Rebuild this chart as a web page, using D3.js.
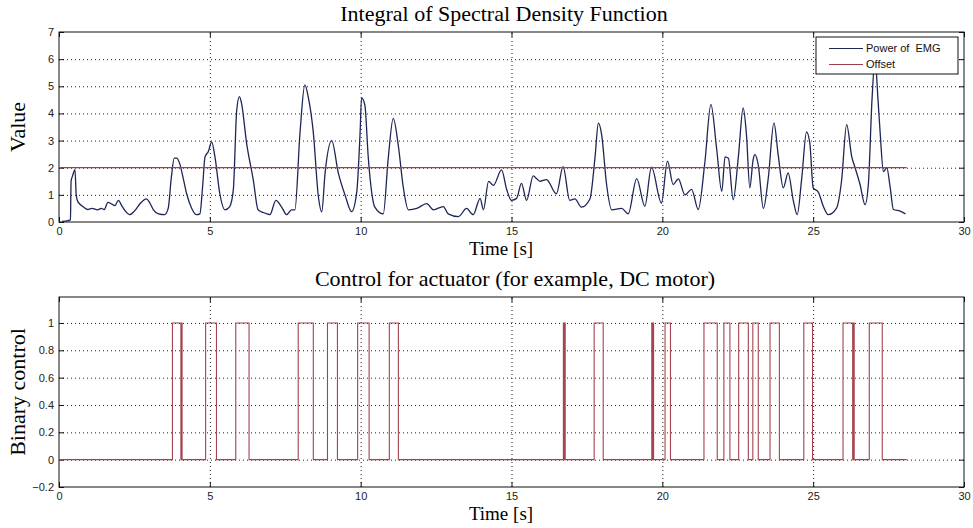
<!DOCTYPE html>
<html>
<head>
<meta charset="utf-8">
<script src="https://cdn.jsdelivr.net/npm/d3@7"></script>
<style>
  body { margin: 0; background: #fff; }
  svg { display: block; }
</style>
</head>
<body>
<div id="chart"></div>
<script>
// ---- data ----
const emgTime = [0.1, 0.3, 0.38, 0.40, 0.45, 0.53, 0.57, 0.62, 0.78, 0.95, 1.1, 1.28, 1.4, 1.5, 1.62, 1.75, 1.85, 1.97, 2.07, 2.2,
  2.35, 2.5, 2.69, 2.9, 3.0, 3.13, 3.3, 3.5, 3.62, 3.72, 3.82, 3.9, 4.0, 4.12, 4.23, 4.4, 4.56, 4.67, 4.76, 4.84,
  4.95, 5.06, 5.17, 5.33, 5.5, 5.66, 5.78, 5.89, 5.98, 6.05, 6.22, 6.44, 6.6, 6.77, 6.9, 6.99, 7.19, 7.38, 7.55, 7.71,
  7.82, 7.99, 8.15, 8.26, 8.43, 8.6, 8.71, 8.82, 9.04, 9.26, 9.48, 9.7, 9.87, 9.98, 10.03, 10.14, 10.25, 10.47, 10.75, 10.91,
  11.08, 11.25, 11.41, 11.58, 11.86, 12.19, 12.41, 12.74, 12.9, 13.24, 13.51, 13.73, 13.96, 14.07, 14.24, 14.4, 14.67, 14.84, 15.0, 15.17,
  15.33, 15.5, 15.72, 15.83, 15.94, 16.16, 16.49, 16.71, 16.93, 17.1, 17.32, 17.6, 17.77, 17.88, 17.99, 18.15, 18.32, 18.65, 18.87, 19.15,
  19.42, 19.64, 19.97, 20.17, 20.36, 20.53, 20.75, 20.97, 21.19, 21.41, 21.61, 21.8, 21.97, 22.08, 22.19, 22.35, 22.52, 22.68, 22.79, 22.9,
  23.01, 23.07, 23.18, 23.35, 23.51, 23.7, 23.84, 24.01, 24.17, 24.34, 24.47, 24.62, 24.78, 24.89, 25.0, 25.17, 25.33, 25.5, 25.77, 25.94,
  26.11, 26.28, 26.39, 26.55, 26.72, 26.83, 26.95, 27.05, 27.15, 27.22, 27.33, 27.44, 27.55, 27.66, 27.88, 28.06];
const emgPower = [0.02, 0.05, 0.08, 1.5, 1.7, 1.93, 1.0, 0.76, 0.58, 0.46, 0.5, 0.45, 0.5, 0.46, 0.72, 0.66, 0.6, 0.8, 0.62, 0.4,
  0.27, 0.4, 0.68, 0.85, 0.72, 0.45, 0.3, 0.27, 0.5, 1.6, 2.35, 2.35, 2.15, 1.6, 1.05, 0.5, 0.27, 0.3, 1.3, 2.4,
  2.6, 2.95, 2.4, 1.05, 0.45, 0.57, 1.2, 4.1, 4.62, 4.38, 2.9, 1.55, 0.45, 0.35, 0.3, 0.27, 0.8, 0.55, 0.27, 0.45,
  0.45, 3.3, 5.05, 4.62, 3.3, 0.92, 0.37, 1.8, 3.0, 1.8, 1.0, 0.38, 1.1, 3.27, 4.57, 4.3, 2.41, 0.55, 0.3, 2.3,
  3.82, 2.8, 1.3, 0.45, 0.5, 0.68, 0.45, 0.57, 0.3, 0.2, 0.5, 0.27, 0.87, 0.45, 1.5, 1.35, 1.92, 1.2, 0.8, 0.87,
  1.42, 0.8, 1.7, 1.6, 1.5, 1.56, 1.04, 2.04, 0.8, 0.85, 0.55, 0.85, 2.4, 3.64, 3.2, 1.4, 0.45, 0.5, 0.3, 1.6,
  0.58, 2.02, 0.7, 2.24, 1.38, 1.59, 1.0, 1.2, 0.46, 2.2, 4.33, 2.7, 1.13, 2.4, 2.35, 0.82, 2.4, 4.2, 3.2, 1.26,
  2.3, 2.48, 2.1, 0.5, 1.6, 3.65, 2.48, 1.26, 1.81, 0.8, 0.27, 1.6, 3.32, 2.9, 1.26, 1.1, 0.6, 0.27, 0.5, 1.5,
  3.59, 2.4, 2.0, 1.4, 0.64, 1.4, 4.5, 6.0, 4.5, 3.3, 1.86, 2.0, 1.3, 0.46, 0.4, 0.3];

const offsetLevel = 2;
const offsetSpan = [0, 28.1];

// binary control: switch-on and switch-off times [s]
const pulseOn  = [3.76, 4.06, 4.86, 5.86, 7.93, 8.90, 9.90, 10.95, 16.72, 16.76, 17.74, 19.65, 19.69, 20.09,
  21.38, 22.04, 22.53, 23.00, 23.57, 24.69, 25.99, 26.33, 26.86];
const pulseOff = [4.04, 4.08, 5.22, 6.30, 8.43, 9.23, 10.28, 11.25, 16.74, 16.78, 18.04, 19.67, 19.71, 20.27,
  21.82, 22.24, 22.85, 23.18, 23.88, 24.98, 26.31, 26.36, 27.29];
const controlSpan = [0, 28.1];

const timeTicks = [0, 5, 10, 15, 20, 25, 30];
const valueTicks = [0, 1, 2, 3, 4, 5, 6, 7];
const controlTicks = [-0.2, 0, 0.2, 0.4, 0.6, 0.8, 1];

const legendLabels = ["Power of  EMG", "Offset"];

// ---- drawing ----
const W = 973, H = 528;
const EMG_COLOR = "#1d2656";
const OFFSET_COLOR = "#a23d4a";
const CONTROL_COLOR = "#a5434e";
const SERIF = "Liberation Serif, Times New Roman, serif";
const SANS = "Liberation Sans, Arial, sans-serif";

const svg = d3.select("#chart").append("svg")
    .attr("width", W)
    .attr("height", H);

svg.append("rect").attr("width", W).attr("height", H).attr("fill", "#fff");

function drawPanel(cfg) {
    const x = d3.scaleLinear().domain([0, 30]).range([cfg.left, cfg.right]);
    const y = d3.scaleLinear().domain(cfg.yDomain).range([cfg.bottom, cfg.top]);
    const g = svg.append("g");

    // dotted grid
    g.append("g")
        .attr("transform", `translate(0,${cfg.bottom})`)
        .call(d3.axisBottom(x).tickValues(timeTicks.filter(t => t > 0 && t < 30)).tickSize(-(cfg.bottom - cfg.top)).tickFormat(""))
        .call(a => a.select(".domain").remove())
        .call(a => a.selectAll("line").attr("stroke", "#222").attr("stroke-dasharray", "1,3"));
    g.append("g")
        .attr("transform", `translate(${cfg.left},0)`)
        .call(d3.axisLeft(y).tickValues(cfg.gridY).tickSize(-(cfg.right - cfg.left)).tickFormat(""))
        .call(a => a.select(".domain").remove())
        .call(a => a.selectAll("line").attr("stroke", "#222").attr("stroke-dasharray", "1,3"));

    // axes with inward ticks on all four sides
    const styleAxis = a => {
        a.select(".domain").remove();
        a.selectAll("line").attr("stroke", "#111");
        a.selectAll("text").attr("fill", "#222").attr("font-family", SANS).attr("font-size", 11);
    };
    g.append("g")
        .attr("transform", `translate(0,${cfg.bottom})`)
        .call(d3.axisBottom(x).tickValues(timeTicks).tickSizeInner(-5).tickSizeOuter(0).tickPadding(5.5))
        .call(styleAxis);
    g.append("g")
        .attr("transform", `translate(0,${cfg.top})`)
        .call(d3.axisTop(x).tickValues(timeTicks).tickSizeInner(-5).tickSizeOuter(0).tickFormat(""))
        .call(styleAxis);
    g.append("g")
        .attr("transform", `translate(${cfg.left},0)`)
        .call(d3.axisLeft(y).tickValues(cfg.yTicks).tickSizeInner(-5).tickSizeOuter(0).tickPadding(5)
            .tickFormat(d => d3.format("")(+d.toFixed(1))))
        .call(styleAxis);
    g.append("g")
        .attr("transform", `translate(${cfg.right},0)`)
        .call(d3.axisRight(y).tickValues(cfg.yTicks).tickSizeInner(-5).tickSizeOuter(0).tickFormat(""))
        .call(styleAxis);

    g.append("rect")
        .attr("x", cfg.left).attr("y", cfg.top)
        .attr("width", cfg.right - cfg.left).attr("height", cfg.bottom - cfg.top)
        .attr("fill", "none").attr("stroke", "#111").attr("stroke-width", 1);

    // titles
    g.append("text")
        .attr("x", cfg.titleX).attr("y", cfg.top - 11)
        .attr("text-anchor", "middle")
        .attr("font-family", SERIF)
        .attr("font-size", 22)
        .text(cfg.title);
    g.append("text")
        .attr("x", 501).attr("y", cfg.bottom + 33)
        .attr("text-anchor", "middle")
        .attr("font-family", SERIF)
        .attr("font-size", 19)
        .text("Time [s]");
    g.append("text")
        .attr("transform", `translate(25,${(cfg.top + cfg.bottom) / 2}) rotate(-90)`)
        .attr("text-anchor", "middle")
        .attr("font-family", SERIF)
        .attr("font-size", 22)
        .text(cfg.yLabel);

    return {x, y, g};
}

// ---- top panel: power of EMG ----
const topPanel = drawPanel({
    left: 59, right: 964, top: 32, bottom: 222,
    yDomain: [0, 7], yTicks: valueTicks, gridY: valueTicks.filter(v => v > 0 && v < 7),
    title: "Integral of Spectral Density Function", titleX: 504, yLabel: "Value"
});

const emgPoints = emgTime.map((t, i) => [t, emgPower[i]]);
topPanel.g.append("path")
    .datum(emgPoints)
    .attr("fill", "none")
    .attr("stroke", EMG_COLOR)
    .attr("stroke-width", 1.3)
    .attr("stroke-linejoin", "round")
    .attr("d", d3.line().curve(d3.curveMonotoneX).x(d => topPanel.x(d[0])).y(d => topPanel.y(d[1])));

topPanel.g.append("line")
    .attr("x1", topPanel.x(offsetSpan[0])).attr("x2", topPanel.x(offsetSpan[1]))
    .attr("y1", topPanel.y(offsetLevel)).attr("y2", topPanel.y(offsetLevel))
    .attr("stroke", OFFSET_COLOR).attr("stroke-width", 1.2);

// legend
const legend = topPanel.g.append("g").attr("transform", "translate(816,37)");
legend.append("rect")
    .attr("width", 142).attr("height", 37)
    .attr("fill", "#fff").attr("stroke", "#111");
[EMG_COLOR, OFFSET_COLOR].forEach((c, i) => {
    const ly = 11.5 + i * 16;
    legend.append("line")
        .attr("x1", 13).attr("x2", 47).attr("y1", ly).attr("y2", ly)
        .attr("stroke", c).attr("stroke-width", 1.2);
    legend.append("text")
        .attr("x", 50).attr("y", ly).attr("dy", "0.35em")
        .attr("font-family", SANS)
        .attr("font-size", 11)
        .attr("fill", "#111")
        .style("white-space", "pre")
        .text(legendLabels[i]);
});

// ---- bottom panel: binary control ----
const bottomPanel = drawPanel({
    left: 59, right: 964, top: 297, bottom: 487,
    yDomain: [-0.2, 1.19], yTicks: controlTicks, gridY: controlTicks.filter(v => v > -0.2),
    title: "Control for actuator (for example, DC motor)", titleX: 515, yLabel: "Binary control"
});

const controlPoints = [[controlSpan[0], 0]];
pulseOn.forEach((on, i) => {
    controlPoints.push([on, 0], [on, 1], [pulseOff[i], 1], [pulseOff[i], 0]);
});
controlPoints.push([controlSpan[1], 0]);

bottomPanel.g.append("path")
    .datum(controlPoints)
    .attr("fill", "none")
    .attr("stroke", CONTROL_COLOR)
    .attr("stroke-width", 1.1)
    .attr("d", d3.line().x(d => bottomPanel.x(d[0])).y(d => bottomPanel.y(d[1])));
</script>
</body>
</html>
